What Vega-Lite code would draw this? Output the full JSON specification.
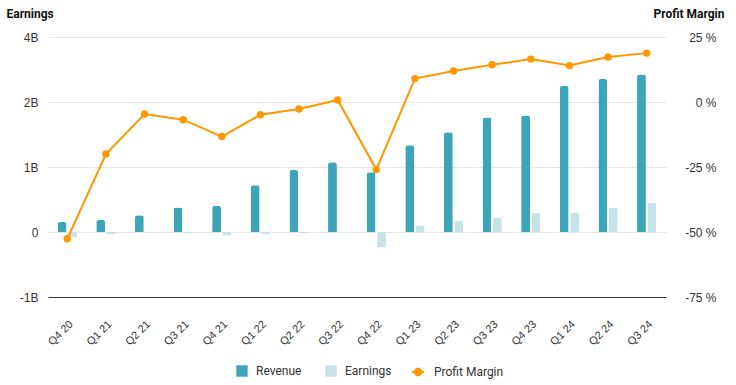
{
  "$schema": "https://vega.github.io/schema/vega-lite/v6.json",
  "width": 618,
  "height": 260,
  "autosize": {"type": "none"},
  "padding": {"left": 48, "top": 37, "right": 70, "bottom": 88},
  "config": {
    "view": {"stroke": null},
    "axis": {"ticks": false, "labelFont": "Liberation Sans", "labelFontSize": 12, "labelColor": "#333333", "gridColor": "#e6e6e6", "gridWidth": 1}
  },
  "data": {
    "values": [
      {"quarter": "Q4 20", "Revenue": 0.19, "Earnings": -0.10, "margin": -52.6},
      {"quarter": "Q1 21", "Revenue": 0.23, "Earnings": -0.04, "margin": -20.0},
      {"quarter": "Q2 21", "Revenue": 0.32, "Earnings": -0.015, "margin": -4.6},
      {"quarter": "Q3 21", "Revenue": 0.47, "Earnings": -0.03, "margin": -6.8},
      {"quarter": "Q4 21", "Revenue": 0.50, "Earnings": -0.065, "margin": -13.3},
      {"quarter": "Q1 22", "Revenue": 0.90, "Earnings": -0.04, "margin": -4.9},
      {"quarter": "Q2 22", "Revenue": 1.19, "Earnings": -0.03, "margin": -2.7},
      {"quarter": "Q3 22", "Revenue": 1.34, "Earnings": 0.011, "margin": 0.8},
      {"quarter": "Q4 22", "Revenue": 1.15, "Earnings": -0.30, "margin": -26.0},
      {"quarter": "Q1 23", "Revenue": 1.67, "Earnings": 0.13, "margin": 9.0},
      {"quarter": "Q2 23", "Revenue": 1.92, "Earnings": 0.21, "margin": 11.9},
      {"quarter": "Q3 23", "Revenue": 2.20, "Earnings": 0.28, "margin": 14.3},
      {"quarter": "Q4 23", "Revenue": 2.24, "Earnings": 0.37, "margin": 16.5},
      {"quarter": "Q1 24", "Revenue": 2.81, "Earnings": 0.38, "margin": 14.0},
      {"quarter": "Q2 24", "Revenue": 2.94, "Earnings": 0.47, "margin": 17.3},
      {"quarter": "Q3 24", "Revenue": 3.03, "Earnings": 0.56, "margin": 18.8}
    ]
  },
  "layer": [
    {
      "transform": [{"fold": ["Revenue", "Earnings"], "as": ["series", "value"]}],
      "mark": {"type": "bar", "cornerRadiusEnd": 2.5},
      "encoding": {
        "x": {
          "field": "quarter", "type": "nominal", "sort": null,
          "scale": {"paddingInner": 0.5, "paddingOuter": 0.25},
          "axis": {"title": null, "labelAngle": -45, "labelFontSize": 11, "labelPadding": 21, "domain": true, "domainColor": "#333333", "domainWidth": 1, "grid": false}
        },
        "xOffset": {"field": "series", "type": "nominal", "scale": {"domain": ["Revenue", "Earnings"], "paddingInner": 0.15}},
        "y": {
          "field": "value", "type": "quantitative",
          "scale": {"domain": [-1.25, 3.75], "nice": false, "zero": false},
          "axis": {
            "orient": "left", "grid": true, "domain": false, "labelPadding": 10,
            "values": [-1.25, 0, 1.25, 2.5, 3.75],
            "labelExpr": "datum.value == 0 ? '0' : datum.value == 3.75 ? '4B' : datum.value == 2.5 ? '2B' : datum.value == 1.25 ? '1B' : '-1B'",
            "title": "Earnings", "titleAngle": 0, "titleX": -42, "titleY": -19.5, "titleAlign": "left", "titleBaseline": "alphabetic",
            "titleFont": "Roboto", "titleFontWeight": "bold", "titleFontSize": 12, "titleColor": "#111111"
          }
        },
        "color": {
          "field": "series", "type": "nominal",
          "scale": {"domain": ["Revenue", "Earnings"], "range": ["#3ca6b8", "#c5e3e9"]},
          "legend": {
            "title": null, "orient": "none", "legendX": 188, "legendY": 328, "direction": "horizontal",
            "symbolType": "square", "symbolSize": 130, "symbolStrokeWidth": 0, "labelFont": "Roboto", "labelFontSize": 12, "labelColor": "#333333",
            "labelOffset": 8, "columnPadding": 23, "padding": 0
          }
        }
      }
    },
    {
      "mark": {"type": "line", "strokeWidth": 2, "point": {"filled": true, "size": 55}},
      "encoding": {
        "x": {"field": "quarter", "type": "nominal", "sort": null},
        "y": {
          "field": "margin", "type": "quantitative",
          "scale": {"domain": [-75, 25], "nice": false, "zero": false},
          "axis": {
            "orient": "right", "grid": false, "domain": false, "labelPadding": 50, "labelAlign": "right",
            "values": [-75, -50, -25, 0, 25],
            "labelExpr": "datum.value + ' %'",
            "title": "Profit Margin", "titleAngle": 0, "titleX": 58, "titleY": -19.5, "titleAlign": "right", "titleBaseline": "alphabetic",
            "titleFont": "Roboto", "titleFontWeight": "bold", "titleFontSize": 12, "titleColor": "#111111"
          }
        },
        "color": {
          "datum": "Profit Margin", "type": "nominal",
          "scale": {"domain": ["Profit Margin"], "range": ["#ff9800"]},
          "legend": {
            "title": null, "orient": "none", "legendX": 363, "legendY": 328, "direction": "horizontal",
            "symbolType": "M-1,0L1,0M-0.55,0A0.55,0.55,0,1,1,0.55,0A0.55,0.55,0,1,1,-0.55,0Z",
            "symbolSize": 144, "symbolStrokeWidth": 2, "symbolFillColor": "#ff9800", "symbolStrokeColor": "#ff9800",
            "labelFont": "Roboto", "labelFontSize": 12, "labelColor": "#333333", "labelOffset": 9, "padding": 0,
            "encode": {"symbols": {"update": {"fill": {"value": "#ff9800"}, "stroke": {"value": "#ff9800"}}}}
          }
        }
      }
    }
  ],
  "resolve": {"scale": {"y": "independent", "color": "independent"}}
}
